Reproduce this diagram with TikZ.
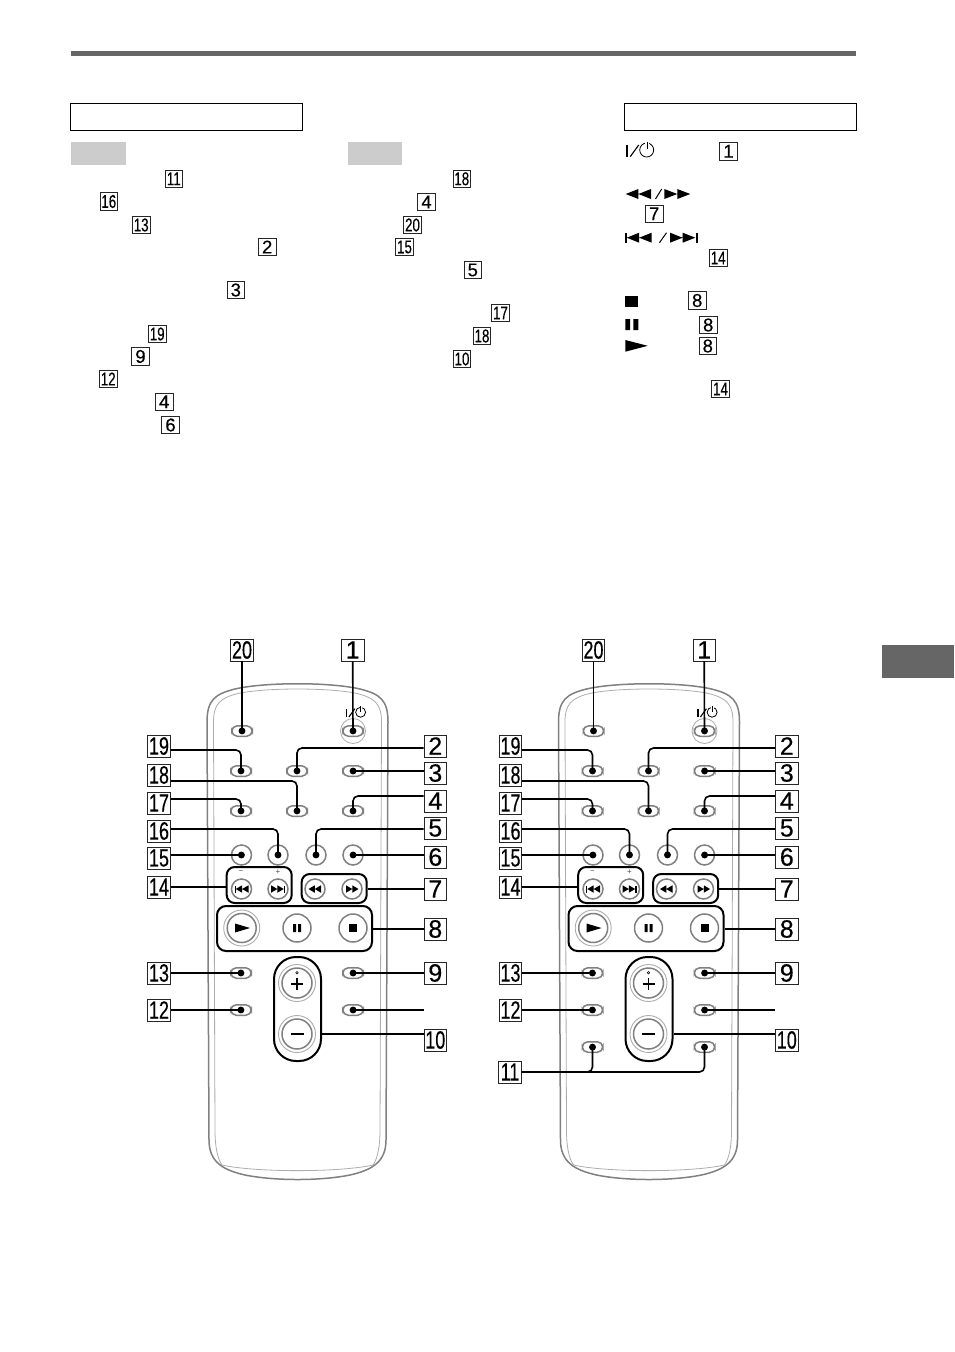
\documentclass[tikz,border=0pt]{standalone}
\usepackage{fontspec}
\setmainfont{Liberation Sans}
\newfontfamily\numfont[FakeBold=0.35]{Liberation Sans}
\usetikzlibrary{arrows.meta,calc}
\definecolor{bodygray}{gray}{0.5}
\definecolor{bodylight}{gray}{0.68}
\definecolor{btngray}{gray}{0.5}
\definecolor{rulegray}{gray}{0.4}
\tikzset{
  numbox/.style={draw=black!85,line width=0.9pt,fill=white,inner sep=0pt,minimum width=22.5pt,minimum height=22pt,font=\numfont\fontsize{25}{25}\selectfont},
  smallbox/.style={draw=black!85,line width=0.8pt,fill=white,inner sep=0pt,minimum width=17.4pt,minimum height=17.4pt,font=\numfont\fontsize{18.5}{18.5}\selectfont},
  pill/.style={draw=btngray,line width=1.5pt,fill=white,rectangle,rounded corners=5.5pt,minimum width=20.5pt,minimum height=10.5pt,inner sep=0pt},
  roundbtn/.style={draw=btngray,line width=1.5pt,fill=white,circle,inner sep=0pt,minimum size=#1},
  groupbox/.style={draw=black,line width=2pt,rectangle,inner sep=0pt},
  leader/.style={draw=black,line width=1.6pt,rounded corners=5pt},
  dotlead/.style={leader,shorten >=-3.3pt,-{Circle[length=6.8pt,width=6.8pt]}},
}
\newcommand{\nar}[1]{\scalebox{0.72}[1]{#1}}
\newcommand{\twotri}[5]{\fill[shift={(#1,#2)},xscale=#5] (0,-#4/2) -- (#3/2,0) -- (0,#4/2) -- cycle (#3/2,-#4/2) -- (#3,0) -- (#3/2,#4/2) -- cycle;}
\newcommand{\pwrsym}{%
  \fill (0,-11.7) rectangle (2.2,0);
  \draw[line width=1.1pt] (4.5,0) -- (13,-11.7);
  \draw[line width=0.8pt] (21,-6.7) circle[radius=7];
  \draw[white,line width=2.5pt] (19.5,-13.7) -- (23,-13.7);
  \draw[line width=1pt] (21.4,-15) -- (21.4,-7.5);
}
\newcommand{\btnpill}[4]{\node[pill] (#1b#2) at (#3,#4) {};}
\newcommand{\lab}[4]{\node[numbox] (#1l#2) at (#3,#4) {#2};}
\newcommand{\labn}[4]{\node[numbox] (#1l#2) at (#3,#4) {\nar{#2}};}
\newcommand{\smbx}[4]{\node[smallbox] (t#1) at (#2,#3) {#4};}
% #1 prefix, #2 shift
\newcommand{\remote}[2]{%
\begin{scope}[shift={(#2,0)}]
  \draw[bodygray,line width=1.5pt,fill=white] (207,722) .. controls (207,700) and (215,694) .. (235,689) .. controls (265,682) and (330,682) .. (360,689) .. controls (380,694) and (388,700) .. (388,722) -- (386,1140) .. controls (386,1162) and (372,1170) .. (350,1175) .. controls (320,1181) and (275,1181) .. (245,1175) .. controls (223,1170) and (209,1162) .. (209,1140) -- cycle;
  \draw[bodylight,line width=0.8pt] (213.5,722) .. controls (213.5,704) and (220,698) .. (238,693.5) .. controls (265,687.5) and (330,687.5) .. (357,693.5) .. controls (375,698) and (381.5,704) .. (381.5,722) -- (380,1130) .. controls (380,1145) and (378,1158) .. (373,1165) .. controls (340,1172.5) and (255,1172.5) .. (222,1165) .. controls (217,1158) and (215,1145) .. (215,1130) -- cycle;
  % power symbol
  \begin{scope}[shift={(345.7,717)},scale=0.71]\pwrsym\end{scope}
  \draw[bodylight,line width=0.8pt] (353,731) circle[radius=12.5];
  % pill buttons
  \btnpill{#1}{20}{242}{731}
  \btnpill{#1}{1}{353}{731}
  \btnpill{#1}{19}{241}{771}
  \btnpill{#1}{2}{297}{771}
  \btnpill{#1}{3}{353}{771}
  \btnpill{#1}{17}{241}{811}
  \btnpill{#1}{18}{297}{811}
  \btnpill{#1}{4}{353}{811}
  \btnpill{#1}{13}{241}{973}
  \btnpill{#1}{12}{241}{1010}
  \btnpill{#1}{9}{353}{973}
  \btnpill{#1}{x}{353}{1010}
  % round buttons
  \node[roundbtn=20pt] (#1b15) at (241.5,855) {};
  \node[roundbtn=20pt] (#1b16) at (278,855) {};
  \node[roundbtn=20pt] (#1b5) at (316,855) {};
  \node[roundbtn=20pt] (#1b6) at (353,855) {};
  \node[font=\fontsize{8}{8}\selectfont,text=black!70,inner sep=0pt] (#1tm) at (241,872) {−};
  \node[font=\fontsize{8}{8}\selectfont,text=black!70,inner sep=0pt] (#1tp) at (278,872) {+};
  \node[roundbtn=20pt] (#1b14a) at (241.5,889) {};
  \node[roundbtn=20pt] (#1b14b) at (278,889) {};
  \node[roundbtn=20pt] (#1b7a) at (315,889) {};
  \node[roundbtn=20pt] (#1b7b) at (352,889) {};
  \fill (234.5,885.5) rectangle (235.8,892.5);
  \twotri{248.5}{889}{12.7}{7.5}{-1}
  \twotri{271}{889}{12.7}{7.5}{1}
  \fill (283.7,885.5) rectangle (285,892.5);
  \twotri{321}{889}{12.5}{7.5}{-1}
  \twotri{346}{889}{12.5}{7.5}{1}
  % transport
  \node[roundbtn=36pt,draw=bodylight,line width=0.9pt] (#1b8a) at (241.7,928) {};
  \node[roundbtn=29pt,fill=none] (#1b8ai) at (241.7,928) {};
  \node[roundbtn=28pt] (#1b8b) at (297,928) {};
  \node[roundbtn=28pt] (#1b8c) at (353,928) {};
  \fill (235,923.5) -- (250,928) -- (235,932.5) -- cycle;
  \fill (293.2,924) rectangle (296,932) (298.2,924) rectangle (301,932);
  \fill (349,924) rectangle (357,932);
  % volume
  \node[roundbtn=37pt,draw=bodylight,line width=0.9pt] (#1b10a) at (297,983) {};
  \node[roundbtn=30pt,fill=none] (#1b10ai) at (297,983) {};
  \node[roundbtn=37pt,draw=bodylight,line width=0.9pt] (#1b10b) at (297,1034) {};
  \node[roundbtn=30pt,fill=none] (#1b10bi) at (297,1034) {};
  \draw[line width=1.2pt] (291,984) -- (303,984) (297,978) -- (297,990);
  \draw[line width=0.5pt] (297,972.7) circle[radius=1.2];
  \draw[line width=1.6pt] (290.5,1034) -- (303.5,1034);
  % group frames
  \node[groupbox,rounded corners=8pt,minimum width=65pt,minimum height=36pt] (#1g14) at (259.2,885) {};
  \node[groupbox,rounded corners=8pt,minimum width=65pt,minimum height=29pt] (#1g7) at (334.2,888.5) {};
  \node[groupbox,rounded corners=9pt,minimum width=155pt,minimum height=45pt] (#1g8) at (294.5,928.5) {};
  \node[groupbox,rounded corners=22pt,minimum width=47pt,minimum height=104pt] (#1g10) at (297.5,1009) {};
  % labels
  \labn{#1}{20}{242}{650}
  \lab{#1}{1}{352.7}{650}
  \labn{#1}{19}{159}{746}
  \labn{#1}{18}{159}{775}
  \labn{#1}{17}{159}{803}
  \labn{#1}{16}{159}{831}
  \labn{#1}{15}{159}{858}
  \labn{#1}{14}{159}{887}
  \labn{#1}{13}{159}{973}
  \labn{#1}{12}{159}{1010}
  \lab{#1}{2}{435.3}{746}
  \lab{#1}{3}{435.3}{773}
  \lab{#1}{4}{435.3}{801}
  \lab{#1}{5}{435.3}{828}
  \lab{#1}{6}{435.3}{857}
  \lab{#1}{7}{435.3}{889}
  \lab{#1}{8}{435.3}{929}
  \lab{#1}{9}{435.3}{973}
  \labn{#1}{10}{435.3}{1040}
  \coordinate (#1free) at (423.5,1010);
  % connectors
  \draw[dotlead] (#1l20.south) -- (#1b20.center);
  \draw[dotlead] (#1l1.south) -- (#1b1.center);
  \draw[dotlead] ([yshift=-4pt]#1l19.east) -| (#1b19.center);
  \draw[dotlead] ([yshift=-2pt]#1l2.west) -| (#1b2.center);
  \draw[dotlead] (#1l3.west |- #1b3.center) -- (#1b3.center);
  \draw[dotlead] ([yshift=-6pt]#1l18.east) -| (#1b18.center);
  \draw[dotlead] ([yshift=4pt]#1l17.east) -| (#1b17.center);
  \draw[dotlead] ([yshift=5pt]#1l4.west) -| (#1b4.center);
  \draw[dotlead] ([yshift=2pt]#1l16.east) -| (#1b16.center);
  \draw[dotlead] ([yshift=-1pt]#1l5.west) -| (#1b5.center);
  \draw[dotlead] (#1l15.east |- #1b15.center) -- (#1b15.center);
  \draw[dotlead] (#1l6.west |- #1b6.center) -- (#1b6.center);
  \draw[leader] (#1l14.east) -- (#1g14.west |- #1l14.east);
  \draw[leader] (#1g7.east |- #1l7.west) -- (#1l7.west);
  \draw[leader] (#1g8.east |- #1l8.west) -- (#1l8.west);
  \draw[dotlead] (#1l13.east) -- (#1b13.center);
  \draw[dotlead] (#1l12.east) -- (#1b12.center);
  \draw[dotlead] (#1l9.west) -- (#1b9.center);
  \draw[dotlead] (#1free) -- (#1bx.center);
  \draw[leader] ([yshift=6pt]#1l10.west) -- ([yshift=6pt]#1g10.east |- #1l10.west);
\end{scope}}
\begin{document}
\begin{tikzpicture}[x=1pt,y=-1pt]
\useasboundingbox (0,0) rectangle (954,1352);
\fill[white] (0,0) rectangle (954,1352);
% top rule and tab
\fill[rulegray] (71,51) rectangle (856,55.5);
\fill[rulegray] (882,645) rectangle (953.5,678);
% header boxes
\draw[line width=1.1pt] (70.5,103.8) rectangle (302.7,130.5);
\draw[line width=1.1pt] (624.5,103.8) rectangle (856.7,130.5);
\fill[black!20] (71,142) rectangle (126,164.7);
\fill[black!20] (348,142) rectangle (402,164.7);
% small number boxes
\smbx{a}{173.8}{178.8}{\nar{11}}
\smbx{b}{108.8}{201.5}{\nar{16}}
\smbx{c}{141.2}{225}{\nar{13}}
\smbx{d}{267.2}{247}{2}
\smbx{e}{235.8}{290}{3}
\smbx{f}{157.2}{334}{\nar{19}}
\smbx{g}{140.5}{356.5}{9}
\smbx{h}{108.2}{379}{\nar{12}}
\smbx{i}{164.2}{401.8}{4}
\smbx{j}{170.5}{425}{6}
\smbx{k}{461.8}{178.8}{\nar{18}}
\smbx{l}{426.5}{202}{4}
\smbx{m}{412.5}{225}{\nar{20}}
\smbx{n}{404.5}{247}{\nar{15}}
\smbx{o}{472.8}{270}{5}
\smbx{p}{500.5}{313}{\nar{17}}
\smbx{q}{482}{336}{\nar{18}}
\smbx{r}{462}{359}{\nar{10}}
\smbx{s}{728.5}{151.3}{1}
\smbx{t}{654.2}{213.8}{7}
\smbx{u}{718.2}{258}{\nar{14}}
\smbx{v}{697.2}{300.5}{8}
\smbx{w}{708.2}{325}{8}
\smbx{x}{707.8}{346}{8}
\smbx{y}{720.5}{389}{\nar{14}}
% glyphs of the right column
\begin{scope}[shift={(625.7,156.7)}]\pwrsym\end{scope}
\twotri{651}{194}{25.3}{10}{-1}
\draw[line width=1pt] (655.5,199) -- (661.7,189);
\twotri{664.3}{194}{26}{10}{1}
\fill (625,232.7) rectangle (626.9,242.7);
\twotri{651.7}{237.7}{25}{10}{-1}
\draw[line width=1pt] (659.5,242.7) -- (666.5,232.7);
\twotri{670}{237.7}{25.3}{10}{1}
\fill (696,232.7) rectangle (698.3,242.7);
\fill (625.3,295.7) rectangle (638,306.7);
\fill (625.3,319) rectangle (630,330) (633.3,319) rectangle (638.3,330);
\fill (625.3,340) -- (647.7,345.8) -- (625.3,351.7) -- cycle;
% remotes
\remote{L}{0}
\remote{R}{351.5}
% the extra row of the second remote
\node[pill] (Rb11a) at (592.5,1047) {};
\node[pill] (Rb11b) at (704.5,1047) {};
\node[numbox] (Rl11) at (510,1072) {\nar{11}};
\draw[dotlead] (Rl11.east) -| (Rb11a.center);
\draw[dotlead] (Rl11.east) -| (Rb11b.center);
\end{tikzpicture}
\end{document}
